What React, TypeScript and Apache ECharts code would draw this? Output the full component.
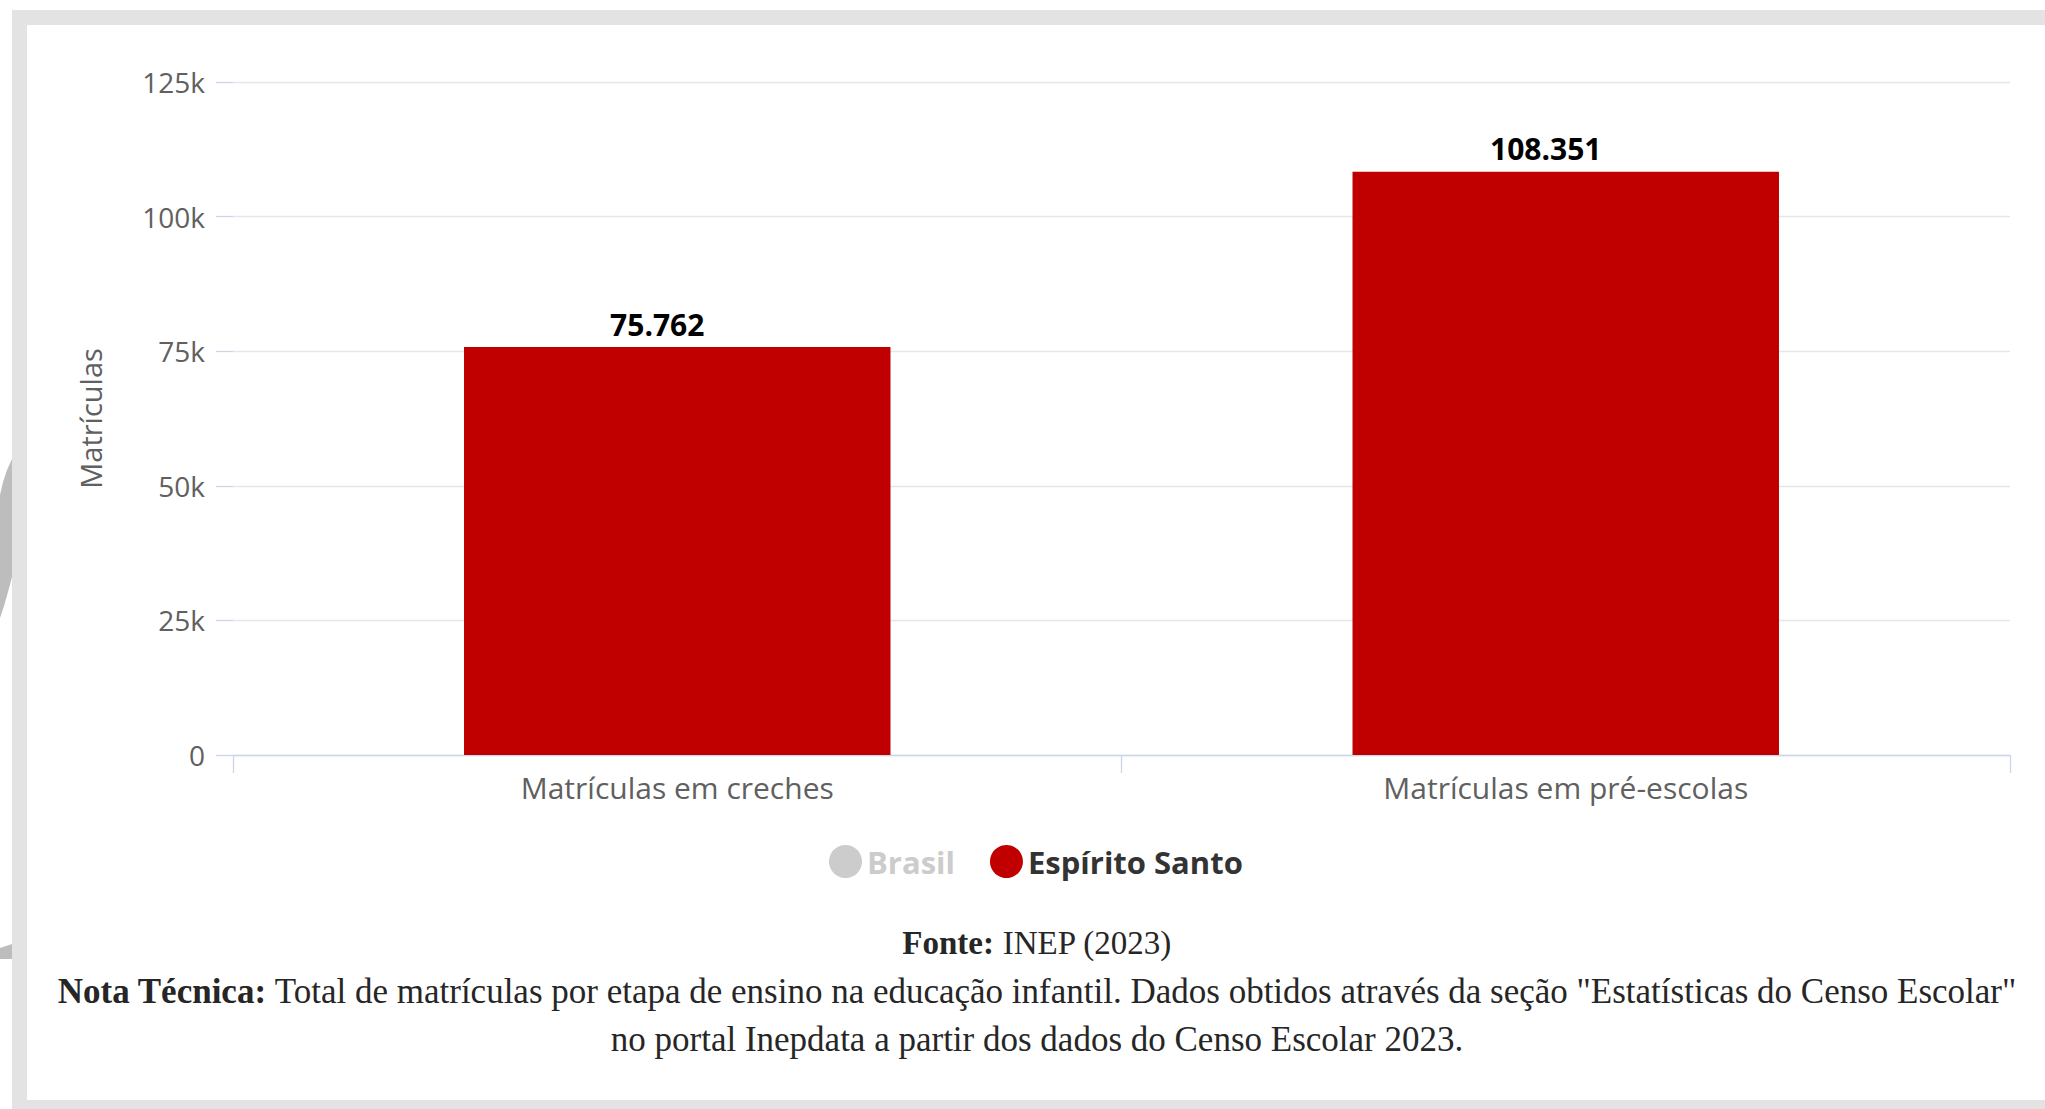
import React, { useEffect, useRef } from "react";
import * as echarts from "echarts";

const categories = ["Matrículas em creches", "Matrículas em pré-escolas"];
const espiritoSantoValues = [75762, 108351];
const brasilValues: (number | null)[] = [null, null];
const seriesNames = ["Brasil", "Espírito Santo"];
const yMin = 0;
const yMax = 125000;
const yInterval = 25000;
const yAxisName = "Matrículas";
const sourceLabel = "Fonte:";
const sourceText = "INEP (2023)";
const noteLabel = "Nota Técnica:";
const noteLine1 =
  'Total de matrículas por etapa de ensino na educação infantil. Dados obtidos através da seção "Estatísticas do Censo Escolar"';
const noteLine2 = "no portal Inepdata a partir dos dados do Censo Escolar 2023.";

const SANS = "'Open Sans', 'Noto Sans', sans-serif";
const SERIF = "'Liberation Serif', 'DejaVu Serif', serif";

function fmtThousands(v: number): string {
  return String(Math.round(v)).replace(/\B(?=(\d{3})+(?!\d))/g, ".");
}

export default function App() {
  const ref = useRef<HTMLDivElement>(null);
  useEffect(() => {
    if (!ref.current) return;
    const chart = echarts.init(ref.current, null, { renderer: "svg" });
    const option: any = {
      animation: false,
      backgroundColor: "#ffffff",
      grid: {
        left: 233,
        right: 35,
        top: 82,
        bottom: 354,
        containLabel: false,
        outerBoundsMode: "none",
      },
      legend: {
        data: seriesNames,
        selected: { Brasil: false },
        icon: "circle",
        itemWidth: 33,
        itemHeight: 33,
        itemGap: 35,
        padding: 0,
        left: 829,
        top: 845,
        inactiveColor: "#cccccc",
        textStyle: {
          fontFamily: SANS,
          fontSize: 31,
          fontWeight: "bold",
          color: "#333333",
        },
      },
      xAxis: {
        type: "category",
        data: categories,
        axisLine: { show: true, lineStyle: { color: "#ccd6eb", width: 1.3 } },
        axisTick: { show: true, length: 18, lineStyle: { color: "#ccd6eb", width: 1.3 } },
        axisLabel: {
          fontFamily: SANS,
          fontSize: 30,
          color: "#606060",
          margin: 17,
        },
        splitLine: { show: false },
      },
      yAxis: {
        type: "value",
        min: yMin,
        max: yMax,
        interval: yInterval,
        name: yAxisName,
        nameLocation: "middle",
        nameGap: 128,
        nameTextStyle: { fontFamily: SANS, fontSize: 29, color: "#606060" },
        axisLine: { show: false },
        axisTick: { show: true, length: 17, lineStyle: { color: "#ccd6eb", width: 1.3 } },
        splitLine: { show: true, lineStyle: { color: "#e6e6e6", width: 1.3 } },
        axisLabel: {
          fontFamily: SANS,
          fontSize: 28,
          color: "#606060",
          margin: 28,
          formatter: (v: number) => (v === 0 ? "0" : `${v / 1000}k`),
        },
      },
      series: [
        {
          name: seriesNames[0],
          type: "bar",
          data: brasilValues,
          color: "#999999",
          barWidth: "48%",
        },
        {
          name: seriesNames[1],
          type: "bar",
          data: espiritoSantoValues,
          color: "#c00000",
          barWidth: "48%",
          label: {
            show: true,
            position: "top",
            distance: 8,
            offset: [-20, 0],
            fontFamily: SANS,
            fontSize: 30,
            fontWeight: "bold",
            color: "#000000",
            formatter: (p: any) => fmtThousands(p.value),
          },
        },
      ],
      graphic: [
        { type: "rect", shape: { x: 12, y: 10, width: 2033, height: 15 }, style: { fill: "#e3e3e3" }, silent: true },
        { type: "rect", shape: { x: 12, y: 10, width: 15, height: 1099 }, style: { fill: "#e3e3e3" }, silent: true },
        { type: "rect", shape: { x: 12, y: 1100, width: 2033, height: 9 }, style: { fill: "#e3e3e3" }, silent: true },
        {
          type: "polygon",
          shape: {
            points: [
              [12, 459], [7, 470], [3, 482], [0, 495], [0, 618], [4, 606], [8, 592], [12, 577],
            ],
          },
          style: { fill: "#bdbdbd" },
          silent: true,
        },
        {
          type: "polygon",
          shape: { points: [[0, 948], [12, 944], [12, 959], [0, 959]] },
          style: { fill: "#bdbdbd" },
          silent: true,
        },
        {
          type: "text",
          x: 1037,
          y: 943,
          style: {
            text: `{b|${sourceLabel}} ${sourceText}`,
            align: "center",
            verticalAlign: "middle",
            fontFamily: SERIF,
            fontSize: 33,
            fill: "#262626",
            rich: { b: { fontFamily: SERIF, fontSize: 33, fontWeight: "bold", fill: "#262626" } },
          },
        },
        {
          type: "text",
          x: 1037,
          y: 991,
          style: {
            text: `{b|${noteLabel}} ${noteLine1}`,
            align: "center",
            verticalAlign: "middle",
            fontFamily: SERIF,
            fontSize: 35,
            fill: "#262626",
            rich: { b: { fontFamily: SERIF, fontSize: 35, fontWeight: "bold", fill: "#262626" } },
          },
        },
        {
          type: "text",
          x: 1037,
          y: 1039,
          style: {
            text: noteLine2,
            align: "center",
            verticalAlign: "middle",
            fontFamily: SERIF,
            fontSize: 35,
            fill: "#262626",
          },
        },
      ],
    };
    chart.setOption(option);
    return () => chart.dispose();
  }, []);
  return (
    <div
      ref={ref}
      style={{ position: "fixed", left: 0, top: 0, width: 2045, height: 1109 }}
    />
  );
}
